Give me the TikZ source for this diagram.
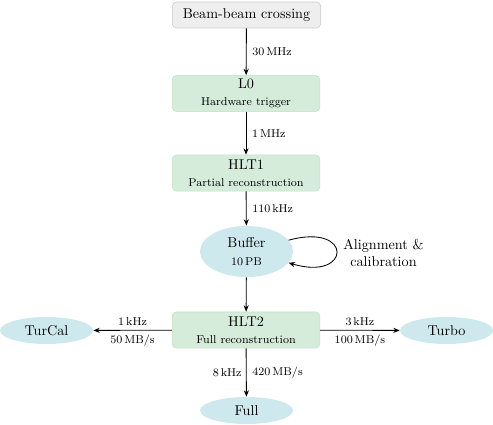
\documentclass[tikz,border=0pt]{standalone}
\usetikzlibrary{arrows.meta,shapes.geometric}
\definecolor{boxgreen}{RGB}{213,236,218}
\definecolor{boxgreenborder}{RGB}{192,226,200}
\definecolor{boxgrey}{RGB}{238,238,238}
\definecolor{boxgreyborder}{RGB}{204,204,204}
\definecolor{ellblue}{RGB}{206,233,238}
\begin{document}
\begin{tikzpicture}[x=0.704pt,y=-0.704pt,
  stagebox/.style={draw=boxgreenborder, fill=boxgreen, rounded corners=3pt, minimum width=104pt, minimum height=25.4pt, align=center, inner sep=0pt},
  beambox/.style={draw=boxgreyborder, fill=boxgrey, rounded corners=3pt, minimum width=104.5pt, minimum height=18.3pt, inner sep=0pt},
  store/.style={ellipse, fill=ellblue, minimum width=65.5pt, minimum height=19pt, inner sep=0pt, align=center},
  flow/.style={-{Stealth[length=4.5pt,width=3.6pt]}, line width=0.6pt},
  rate/.style={font=\footnotesize, inner sep=0pt}]
\useasboundingbox (0,0) rectangle (493,424);
\node[beambox] (beam) at (246.5,15) {Beam-beam crossing};
\node[stagebox] (l0) at (246,93.5) {L0\\{\footnotesize Hardware trigger}};
\node[stagebox] (hlt1) at (246,173) {HLT1\\{\footnotesize Partial reconstruction}};
\node[store, minimum height=36pt] (buffer) at (246.5,251.5) {Buffer\\[1pt]{\footnotesize 10\,PB}};
\node[stagebox] (hlt2) at (246,330) {HLT2\\{\footnotesize Full reconstruction}};
\node[store] (turcal) at (46.5,330.5) {TurCal};
\node[store] (turbo) at (446.5,330.5) {Turbo};
\node[store] (full) at (246.5,410.5) {Full};
\node[align=center] (align) at (383.5,253) {Alignment \&\\calibration};

\draw[flow] (beam) -- node[rate, midway, anchor=west, xshift=4pt] {30\,MHz} (l0);
\draw[flow] (l0) -- node[rate, midway, anchor=west, xshift=4pt] {1\,MHz} (hlt1);
\draw[flow] (hlt1) -- node[rate, midway, anchor=west, xshift=4pt] {110\,kHz} (buffer);
\draw[flow] (buffer) -- (hlt2);
\draw[flow] (buffer.15) .. controls +(65,-18) and +(63,19) .. (buffer.-15);
\draw[flow] (hlt2) -- node[rate, midway, above=3pt] {1\,kHz} node[rate, midway, below=3pt] {50\,MB/s} (turcal);
\draw[flow] (hlt2) -- node[rate, midway, above=3pt] {3\,kHz} node[rate, midway, below=3pt] {100\,MB/s} (turbo);
\draw[flow] (hlt2) -- node[rate, midway, anchor=east, xshift=-3pt] {8\,kHz} node[rate, midway, anchor=west, xshift=4pt] {420\,MB/s} (full);
\end{tikzpicture}
\end{document}
